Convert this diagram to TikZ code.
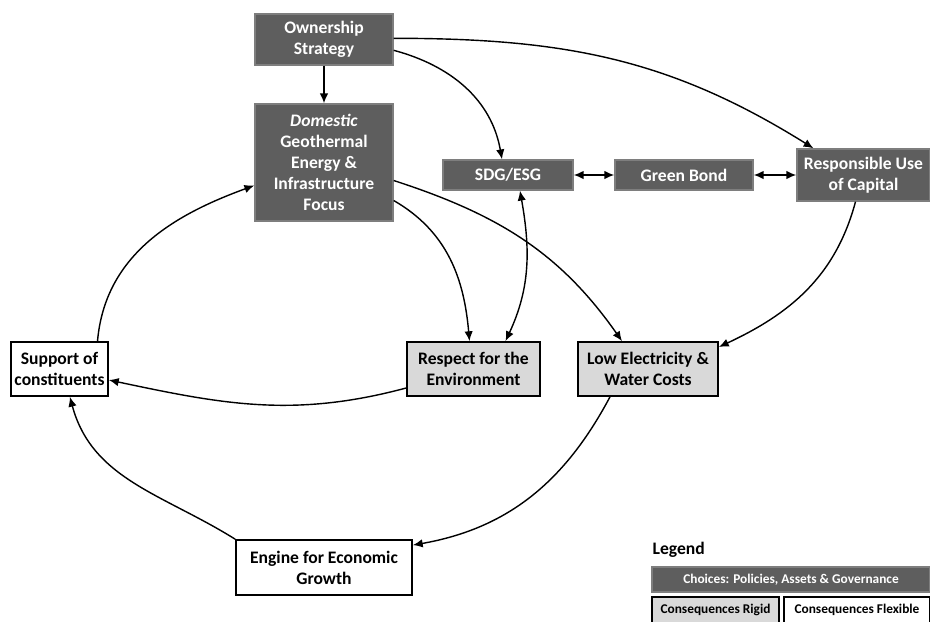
\documentclass[tikz,border=0pt]{standalone}
\usepackage{fontspec}
\setmainfont{Carlito}
\usepackage{xcolor}
\usetikzlibrary{arrows.meta}

\definecolor{choicegray}{HTML}{5E5E5E}
\definecolor{rigidgray}{HTML}{D9D9D9}

\begin{document}
\begin{tikzpicture}[x=0.025cm,y=-0.025cm,line width=1pt,>={Latex[length=7pt,width=6pt]},
    choice/.style={fill=choicegray,draw=choicegray!80,text=white,align=center,inner sep=2pt,
      font=\fontsize{12.5}{15}\selectfont\bfseries},
    rigid/.style={fill=rigidgray,draw=black,line width=1.2pt,align=center,inner sep=2pt,
      font=\fontsize{12.5}{15}\selectfont\bfseries},
    flexible/.style={fill=white,draw=black,line width=1.2pt,align=center,inner sep=2pt,
      font=\fontsize{12.5}{15}\selectfont\bfseries},
    legendbox/.style={font=\fontsize{9.5}{11}\selectfont\bfseries,minimum height=0.65cm}]
    \useasboundingbox (0,0) rectangle (930,621);

    \node[choice,minimum width=3.45cm,minimum height=1.275cm] (own) at (324,39.5) {Ownership\\Strategy};
    \node[choice,minimum width=3.45cm,minimum height=2.925cm] (dom) at (324,162.5) {\textit{Domestic}\\Geothermal\\Energy \&\\Infrastructure\\Focus};
    \node[choice,minimum width=3.25cm,minimum height=0.75cm] (sdg) at (508,175) {SDG/ESG};
    \node[choice,minimum width=3.45cm,minimum height=0.75cm] (bond) at (684,175) {Green Bond};
    \node[choice,minimum width=3.325cm,minimum height=1.3cm] (capital) at (863.5,175) {Responsible Use\\of Capital};
    \node[flexible,minimum width=2.425cm,minimum height=1.35cm] (support) at (59.5,369) {Support of\\constituents};
    \node[rigid,minimum width=3.325cm,minimum height=1.35cm] (respect) at (473.5,369) {Respect for the\\Environment};
    \node[rigid,minimum width=3.5cm,minimum height=1.35cm] (costs) at (648,369) {Low Electricity \&\\Water Costs};
    \node[flexible,minimum width=4.4cm,minimum height=1.375cm] (engine) at (324,567.5) {Engine for Economic\\Growth};

    % legend
    \node[anchor=west,inner sep=0pt,font=\fontsize{12.5}{14}\selectfont\bfseries] (legend) at (652,550) {Legend};
    \node[choice,legendbox,minimum width=6.95cm,minimum height=0.625cm] (legchoice) at (791,579.5) {Choices: Policies, Assets \& Governance};
    \node[rigid,legendbox,minimum width=3.175cm] (legrigid) at (715.5,610) {Consequences Rigid};
    \node[flexible,legendbox,minimum width=3.65cm] (legflex) at (857,610) {Consequences Flexible};

    \draw[->] (own) -- (dom);
    \draw[->] ([yshift=-0.27cm]own.east) to[out=-15,in=100] ([xshift=-0.15cm]sdg.north);
    \draw[->] ([yshift=0.03cm]own.east) to[out=0,in=148] ([xshift=-1.25cm]capital.north);
    \draw[<->] (sdg) -- (bond);
    \draw[<->] (bond) -- (capital);
    \draw[->] ([yshift=-0.95cm]dom.east) to[out=-30,in=95] ([xshift=-0.1cm]respect.north);
    \draw[->] ([yshift=-0.45cm]dom.east) to[out=-18,in=125] ([xshift=-0.65cm]costs.north);
    \draw[<->] ([xshift=0.3cm]sdg.south) to[out=-80,in=65] ([xshift=0.8cm]respect.north);
    \draw[->] ([xshift=-0.2cm]capital.south) to[out=-105,in=25] ([yshift=0.55cm]costs.east);
    \draw[->] ([yshift=-0.475cm]respect.west) to[out=-165,in=-12] ([yshift=-0.275cm]support.east);
    \draw[->] ([xshift=0.95cm]support.north) to[out=85,in=-160] ([yshift=-0.575cm]dom.west);
    \draw[->] (engine.north west) to[out=148,in=-75] ([xshift=0.26cm]support.south);
    \draw[->] ([xshift=-0.95cm]costs.south) to[out=-118,in=10] ([yshift=0.56cm]engine.east);

  \end{tikzpicture}
\end{document}
